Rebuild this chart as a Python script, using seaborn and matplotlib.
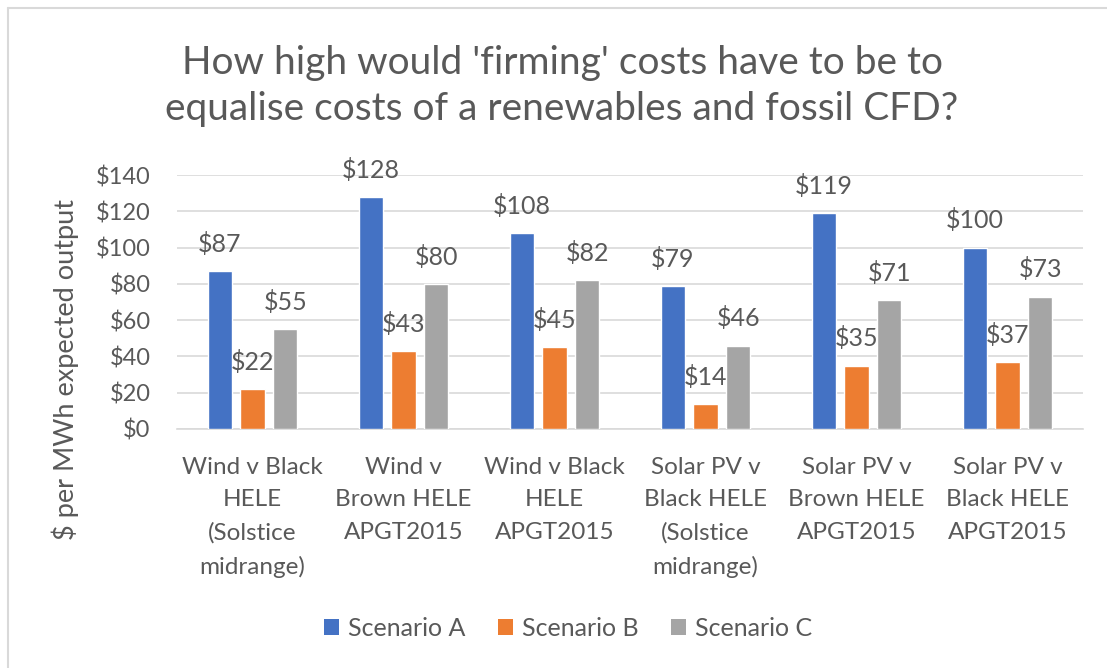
import matplotlib
matplotlib.use("Agg")
import matplotlib.pyplot as plt
import seaborn as sns
import pandas as pd
from matplotlib.lines import Line2D
from matplotlib.patches import Patch

categories = [
    "Wind v Black\nHELE\n(Solstice\nmidrange)",
    "Wind v\nBrown HELE\nAPGT2015",
    "Wind v Black\nHELE\nAPGT2015",
    "Solar PV v\nBlack HELE\n(Solstice\nmidrange)",
    "Solar PV v\nBrown HELE\nAPGT2015",
    "Solar PV v\nBlack HELE\nAPGT2015",
]
series_names = ["Scenario A", "Scenario B", "Scenario C"]
scenario_a = [87, 128, 108, 79, 119, 100]
scenario_b = [22, 43, 45, 14, 35, 37]
scenario_c = [55, 80, 82, 46, 71, 73]
y_ticks = [0, 20, 40, 60, 80, 100, 120, 140]

colors = ["#4472C4", "#ED7D31", "#A5A5A5"]
text_color = "#595959"
grid_color = "#D9D9D9"

df = pd.DataFrame({
    "category": categories * 3,
    "series": [s for s in series_names for _ in categories],
    "value": scenario_a + scenario_b + scenario_c,
})

sns.set_theme(style="white")
plt.rcParams["font.family"] = ["Lato", "DejaVu Sans"]

fig = plt.figure(figsize=(11.07, 6.68), dpi=100)
ax = fig.add_axes([177 / 1107, 1 - 429 / 668, 906 / 1107, 254 / 668])

sns.barplot(data=df, x="category", y="value", hue="series", order=categories,
            hue_order=series_names, palette=colors, width=0.65, gap=0.25,
            saturation=1, legend=False, ax=ax, zorder=3)

ax.set_ylim(0, 140)
ax.set_xlim(-0.5, len(categories) - 0.5)
ax.set_yticks(y_ticks)
ax.set_yticklabels([f"${v}" for v in y_ticks], fontsize=17, color=text_color)
ax.tick_params(axis="y", length=0, pad=19)
ax.tick_params(axis="x", length=0, pad=20)
ax.set_xticks(range(len(categories)))
ax.set_xticklabels(categories, fontsize=17.5, color=text_color, linespacing=1.68)
ax.yaxis.grid(True, color=grid_color, linewidth=1.2, zorder=0)
ax.set_axisbelow(True)
for side in ["top", "right", "left"]:
    ax.spines[side].set_visible(False)
ax.spines["bottom"].set_color(grid_color)
ax.spines["bottom"].set_linewidth(1.2)
ax.set_xlabel("")
ax.set_ylabel("")

# value labels above each bar
for container in ax.containers:
    for bar in container:
        h = bar.get_height()
        ax.annotate(f"${h:.0f}", (bar.get_x() + bar.get_width() / 2, h),
                    xytext=(0, 19.5), textcoords="offset points",
                    ha="center", va="center", fontsize=18, color=text_color)

fig.text(65 / 1107, 1 - 370 / 668, "$ per MWh expected output", rotation=90,
         ha="center", va="center", fontsize=19.5, color=text_color)

fig.text(562 / 1107, 1 - 86 / 668,
         "How high would 'firming' costs have to be to\nequalise costs of a renewables and fossil CFD?",
         ha="center", va="center", fontsize=28, color=text_color, linespacing=1.32)

handles = [Patch(facecolor=c, edgecolor="none") for c in colors]
fig.legend(handles, series_names, loc="center", bbox_to_anchor=(568 / 1107, 1 - 628 / 668),
           ncol=3, frameon=False, fontsize=18, labelcolor=text_color,
           handlelength=0.6, handleheight=0.6, handletextpad=0.35, columnspacing=1.3)

# chart area outline
fig.add_artist(Line2D([8 / 1107, 8 / 1107], [0, 1 - 8 / 668], transform=fig.transFigure,
                      color=grid_color, linewidth=1.5))
fig.add_artist(Line2D([8 / 1107, 1], [1 - 8 / 668, 1 - 8 / 668], transform=fig.transFigure,
                      color=grid_color, linewidth=1.5))

fig.savefig("out.png", dpi=100, facecolor="white")
